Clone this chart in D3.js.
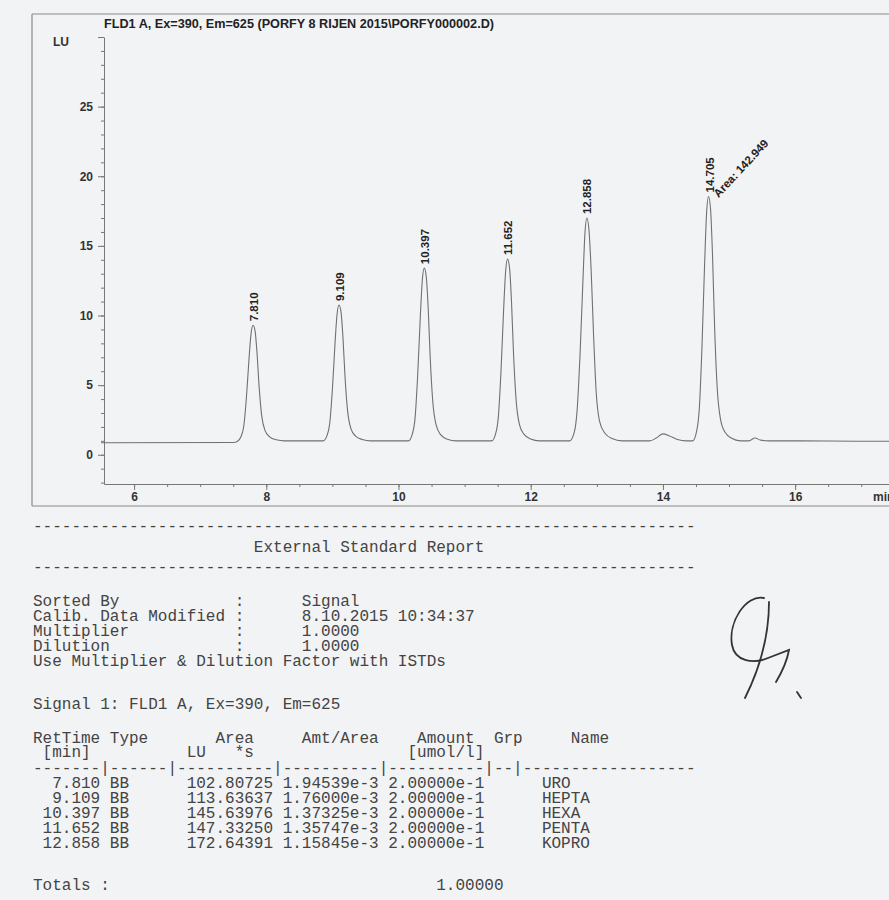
<!DOCTYPE html>
<html>
<head>
<meta charset="utf-8">
<script src="https://cdn.jsdelivr.net/npm/d3@7"></script>
<style>
body { margin: 0; background: #f2f3f5; }
svg { display: block; }
.axis text { font-family: "Liberation Sans", Arial, sans-serif; font-weight: bold; font-size: 12px; fill: #333; }
.axis path, .axis line { stroke: #777; }
.frame { stroke: #8a8a8a; stroke-width: 1.2; }
.report { font-family: "Liberation Mono", monospace; font-size: 16px; fill: #444; white-space: pre; }
</style>
</head>
<body>
<div id="chart"></div>
<script>
// chart text
var title = "FLD1 A, Ex=390, Em=625 (PORFY 8 RIJEN 2015\\PORFY000002.D)";
var xTicks = [6, 8, 10, 12, 14, 16];
var yTicks = [0, 5, 10, 15, 20, 25, 30];

// peaks: printed retention time and apex height (LU)
var peakTimes = ["7.810", "9.109", "10.397", "11.652", "12.858", "14.705"];
var peakHeights = [9.3, 10.75, 13.4, 14.05, 17.0, 18.55];
var areaNote = "Area: 142.949";

// detector trace, [min, LU]
var trace = [
    [5.50, 0.86], [7.50, 0.88], [7.56, 0.95],
    [7.62, 1.33], [7.66, 2.08], [7.70, 4.15], [7.74, 6.98], [7.77, 8.72], [7.80, 9.30],
    [7.83, 8.89], [7.86, 7.31], [7.89, 4.98], [7.93, 2.83], [7.98, 1.75], [8.05, 1.29], [8.15, 1.08], [8.28, 1.00],
    [8.86, 1.00], [8.92, 1.39], [8.96, 2.27], [9.00, 4.71], [9.04, 8.02], [9.07, 10.07], [9.10, 10.75],
    [9.13, 10.26], [9.16, 8.41], [9.19, 5.68], [9.23, 3.15], [9.28, 1.88], [9.35, 1.34], [9.45, 1.10], [9.58, 1.00],
    [10.15, 1.00], [10.21, 1.50], [10.25, 2.61], [10.29, 5.71], [10.33, 9.93], [10.36, 12.53], [10.39, 13.40],
    [10.42, 12.78], [10.45, 10.42], [10.48, 6.95], [10.52, 3.73], [10.57, 2.12], [10.64, 1.43], [10.74, 1.12], [10.87, 1.00],
    [11.41, 1.00], [11.47, 1.52], [11.51, 2.70], [11.55, 5.96], [11.59, 10.40], [11.62, 13.14], [11.65, 14.05],
    [11.68, 13.40], [11.71, 10.92], [11.74, 7.26], [11.78, 3.87], [11.83, 2.17], [11.90, 1.46], [12.00, 1.13], [12.13, 1.00],
    [12.59, 1.00], [12.66, 1.64], [12.70, 3.08], [12.745, 7.08], [12.79, 12.52], [12.82, 15.88], [12.85, 17.00],
    [12.88, 16.20], [12.915, 13.16], [12.95, 8.68], [12.99, 4.52], [13.04, 2.44], [13.12, 1.56], [13.23, 1.16], [13.38, 1.00],
    [13.80, 1.00], [13.90, 1.20], [14.00, 1.50], [14.10, 1.35], [14.22, 1.10], [14.35, 1.00],
    [14.45, 1.00], [14.51, 1.70], [14.55, 3.28], [14.59, 7.67], [14.63, 13.64], [14.66, 17.32], [14.69, 18.55],
    [14.72, 17.67], [14.75, 14.34], [14.78, 9.42], [14.82, 4.86], [14.87, 2.58], [14.94, 1.61], [15.04, 1.18], [15.17, 1.00],
    [15.30, 1.00], [15.39, 1.20], [15.48, 1.05], [15.60, 1.00],
    [16.00, 1.00], [17.00, 0.97], [17.45, 0.97]
];

// report table
var retTimes = ["7.810", "9.109", "10.397", "11.652", "12.858"];
var types = ["BB", "BB", "BB", "BB", "BB"];
var areas = ["102.80725", "113.63637", "145.63976", "147.33250", "172.64391"];
var amtAreas = ["1.94539e-3", "1.76000e-3", "1.37325e-3", "1.35747e-3", "1.15845e-3"];
var amounts = ["2.00000e-1", "2.00000e-1", "2.00000e-1", "2.00000e-1", "2.00000e-1"];
var names = ["URO", "HEPTA", "HEXA", "PENTA", "KOPRO"];
var total = "1.00000";

var W = 889, H = 900;

var svg = d3.select("#chart").append("svg")
    .attr("width", W)
    .attr("height", H);

// scales: plot box runs 5.545..17.45 min and -2.1..30 LU
var x = d3.scaleLinear().domain([5.545, 17.45]).range([104, 891]);
var y = d3.scaleLinear().domain([-2.1, 30]).range([484, 37]);

// printout frame
svg.append("line").attr("class", "frame").attr("x1", 32).attr("x2", W).attr("y1", 14).attr("y2", 14);
svg.append("line").attr("class", "frame").attr("x1", 32).attr("x2", 32).attr("y1", 14).attr("y2", 506);
svg.append("line").attr("class", "frame").attr("x1", 32).attr("x2", W).attr("y1", 506).attr("y2", 506);

svg.append("text")
    .attr("x", 104)
    .attr("y", 28)
    .attr("textLength", 390)
    .attr("lengthAdjust", "spacingAndGlyphs")
    .style("font-family", "Liberation Sans, Arial, sans-serif")
    .style("font-weight", "bold")
    .style("font-size", "12.5px")
    .style("fill", "#222")
    .text(title);

// x axis with minor ticks every 0.5 min
svg.append("g")
    .attr("class", "axis")
    .attr("transform", "translate(0," + y(-2.1) + ")")
    .call(d3.axisBottom(x).tickValues(d3.range(6, 17.5, 0.5)).tickSize(3).tickSizeOuter(0).tickFormat(""));

svg.append("g")
    .attr("class", "axis")
    .attr("transform", "translate(0," + y(-2.1) + ")")
    .call(d3.axisBottom(x).tickValues(xTicks).tickSize(6).tickSizeOuter(0).tickPadding(2))
    .call(function(g) { g.select(".domain").remove(); });

svg.append("text")
    .attr("x", 873)
    .attr("y", 501)
    .style("font-family", "Liberation Sans, Arial, sans-serif")
    .style("font-weight", "bold")
    .style("font-size", "12px")
    .style("fill", "#333")
    .text("min");

// y axis, minor ticks every 1 LU, top tick labelled LU
svg.append("g")
    .attr("class", "axis")
    .attr("transform", "translate(" + x(5.545) + ",0)")
    .call(d3.axisLeft(y).tickValues(d3.range(-2, 30, 1)).tickSize(3).tickSizeOuter(0).tickFormat(""));

svg.append("g")
    .attr("class", "axis")
    .attr("transform", "translate(" + x(5.545) + ",0)")
    .call(d3.axisLeft(y).tickValues(yTicks).tickSize(6).tickSizeOuter(0).tickPadding(5)
        .tickFormat(function(d) { return d === 30 ? "" : d; }))
    .call(function(g) { g.select(".domain").remove(); });

svg.append("text")
    .attr("x", 53)
    .attr("y", y(30) + 9)
    .style("font-family", "Liberation Sans, Arial, sans-serif")
    .style("font-weight", "bold")
    .style("font-size", "12px")
    .style("fill", "#333")
    .text("LU");

// trace
var line = d3.line()
    .x(function(d) { return x(d[0]); })
    .y(function(d) { return y(d[1]); })
    .curve(d3.curveMonotoneX);

svg.append("path")
    .datum(trace)
    .attr("d", line)
    .attr("fill", "none")
    .attr("stroke", "#707070")
    .attr("stroke-width", 1.1);

// peak labels
svg.selectAll(".peak-label")
    .data(peakTimes)
    .enter().append("text")
    .attr("class", "peak-label")
    .attr("transform", function(d, i) {
        return "translate(" + x(+d) + "," + (y(peakHeights[i]) - 4) + ") rotate(-90)";
    })
    .attr("dy", "0.35em")
    .style("font-family", "Liberation Sans, Arial, sans-serif")
    .style("font-weight", "bold")
    .style("font-size", "11.5px")
    .style("fill", "#222")
    .text(function(d) { return d; });

svg.append("text")
    .attr("transform", "translate(" + (x(14.705) + 6) + "," + (y(18.55) - 1) + ") rotate(-47)")
    .attr("dy", "0.35em")
    .style("font-family", "Liberation Sans, Arial, sans-serif")
    .style("font-weight", "bold")
    .style("font-size", "11.5px")
    .style("fill", "#222")
    .text(areaNote);

// report text
function pad(s, n) { s = String(s); while (s.length < n) s = " " + s; return s; }
function padR(s, n) { s = String(s); while (s.length < n) s = s + " "; return s; }
// place words at fixed character columns
function cols(parts) {
    var s = "";
    parts.forEach(function(p) { s = padR(s, p[0]) + p[1]; });
    return s;
}
var dashes = d3.range(69).map(function() { return "-"; }).join("");

var reportLines = [
    [531, dashes],
    [552, cols([[23, "External Standard Report"]])],
    [572, dashes],
    [606, cols([[0, "Sorted By"], [21, ":"], [28, "Signal"]])],
    [621, cols([[0, "Calib. Data Modified"], [21, ":"], [28, "8.10.2015 10:34:37"]])],
    [636, cols([[0, "Multiplier"], [21, ":"], [28, "1.0000"]])],
    [651, cols([[0, "Dilution"], [21, ":"], [28, "1.0000"]])],
    [666, "Use Multiplier & Dilution Factor with ISTDs"],
    [709, "Signal 1: FLD1 A, Ex=390, Em=625"],
    [743, cols([[0, "RetTime"], [8, "Type"], [19, "Area"], [28, "Amt/Area"], [40, "Amount"], [48, "Grp"], [56, "Name"]])],
    [757, cols([[1, "[min]"], [16, "LU"], [21, "*s"], [39, "[umol/l]"]])],
    [773, "-------|------|----------|----------|----------|--|------------------"]
];
retTimes.forEach(function(rt, i) {
    reportLines.push([788 + i * 15,
        cols([[0, pad(rt, 7)], [8, types[i]], [15, pad(areas[i], 10)], [26, amtAreas[i]], [37, amounts[i]], [53, names[i]]])]);
});
reportLines.push([890, cols([[0, "Totals :"], [42, total]])]);

svg.selectAll(".report")
    .data(reportLines)
    .enter().append("text")
    .attr("class", "report")
    .attr("x", 33)
    .attr("y", function(d) { return d[0]; })
    .attr("xml:space", "preserve")
    .text(function(d) { return d[1]; });

// signature
svg.append("path")
    .attr("d", "M764,598 C746,594 728,622 732,645 C735,662 754,664 768,658 L789,650 C787,661 782,672 776,682")
    .attr("fill", "none")
    .attr("stroke", "#333")
    .attr("stroke-width", 1.8)
    .attr("stroke-linecap", "round");
svg.append("path")
    .attr("d", "M769,602 C769,640 759,670 745,698 M797,692 L801,698")
    .attr("fill", "none")
    .attr("stroke", "#333")
    .attr("stroke-width", 1.8)
    .attr("stroke-linecap", "round");
</script>
</body>
</html>
